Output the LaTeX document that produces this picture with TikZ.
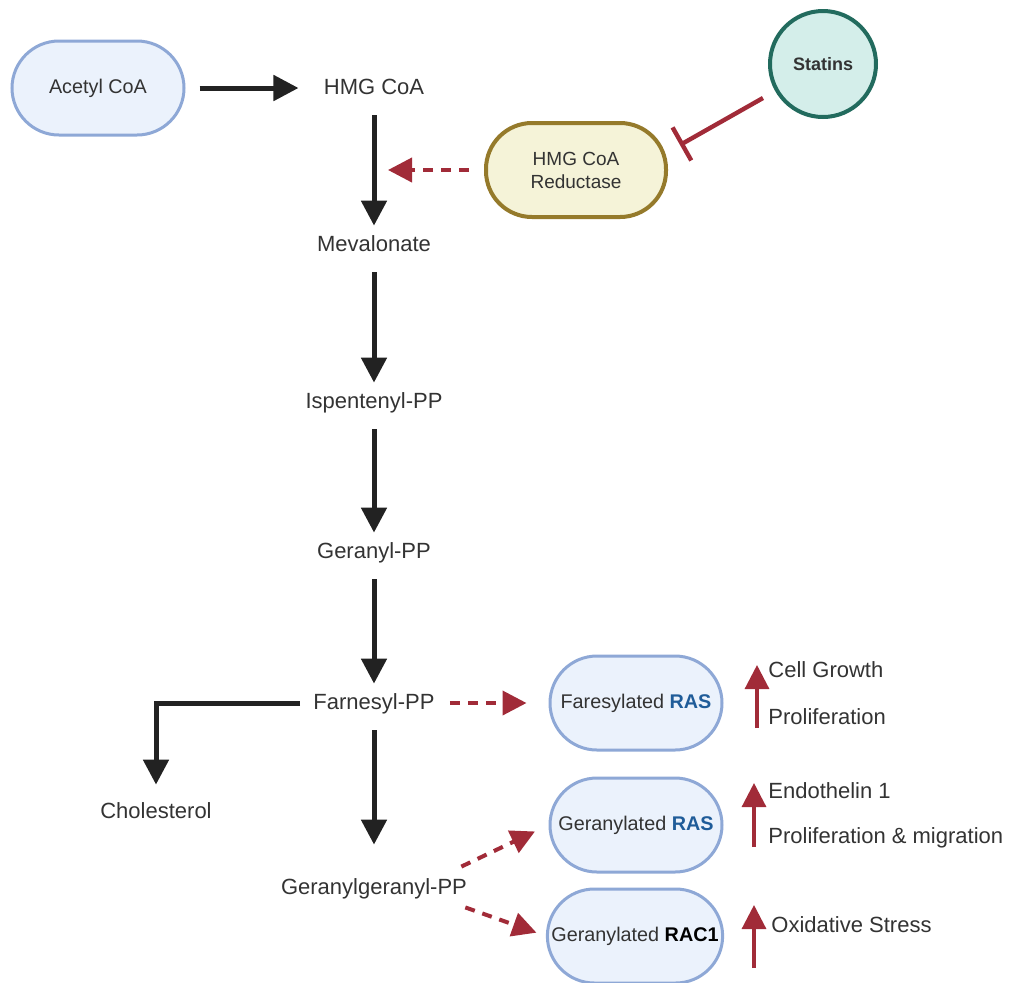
\documentclass[tikz,border=0pt]{standalone}
\usepackage{fontspec}
\setmainfont{Liberation Sans}
\usetikzlibrary{arrows.meta}
\definecolor{boxblue}{HTML}{EBF2FC}
\definecolor{edgeblue}{HTML}{8EA8D6}
\definecolor{rasblue}{HTML}{1F5C99}
\definecolor{enzfill}{HTML}{F5F3D8}
\definecolor{enzedge}{HTML}{957A2B}
\definecolor{statfill}{HTML}{D4EEEA}
\definecolor{statedge}{HTML}{226B5E}
\definecolor{inhred}{HTML}{A12B38}
\definecolor{ink}{HTML}{333333}
\definecolor{darkarrow}{HTML}{222222}
\begin{document}
\begin{tikzpicture}[
        x = 0.5pt, y = -0.5pt,
        every node/.style = {text = ink, font = \fontsize{11}{13}\selectfont},
        metab/.style = {text height = 8.5pt, text depth = 2.5pt, inner sep = 3pt},
        pill/.style = {draw = edgeblue, fill = boxblue, line width = 1.5pt,
            rounded corners = 23.5pt, minimum width = 86pt, minimum height = 47pt,
            inner sep = 2pt, font = \fontsize{9.9}{11}\selectfont},
        enzyme/.style = {draw = enzedge, fill = enzfill, line width = 2pt,
            rounded corners = 23pt, minimum width = 90pt, minimum height = 47pt,
            align = center, font = \fontsize{9.5}{11.5}\selectfont},
        drug/.style = {circle, draw = statedge, fill = statfill, line width = 2pt,
            minimum size = 53pt, font = \fontsize{9}{11}\selectfont\bfseries},
        note/.style = {anchor = west, inner sep = 0pt},
        flow/.style = {draw = darkarrow, line width = 2.5pt,
            -{Triangle[length = 12.5pt, width = 12.5pt]}},
        hint/.style = {draw = inhred, line width = 2pt, dash pattern = on 5pt off 4pt,
            -{Triangle[length = 12pt, width = 12pt]}},
        inhibit/.style = {draw = inhred, line width = 2.2pt, -{Bar[width = 19pt]}},
        rise/.style = {draw = inhred, line width = 1.6pt,
            -{Triangle[length = 12pt, width = 12pt]}}
    ]
    \useasboundingbox (0, 0) rectangle (1018, 982);
    \path
        (98, 88) node[pill] (acetyl) {Acetyl CoA}
        (374, 88) node[metab] (hmg) {HMG CoA}
        (374, 245) node[metab] (meva) {Mevalonate}
        (374, 402) node[metab] (ispent) {Ispentenyl-PP}
        (374, 552) node[metab] (geranyl) {Geranyl-PP}
        (374, 703) node[metab] (farnesyl) {Farnesyl-PP}
        (374, 888) node[metab] (ggpp) {Geranylgeranyl-PP}
        (156, 812) node[metab] (chol) {Cholesterol}
        (576, 170) node[enzyme] (reductase) {HMG CoA\\Reductase}
        (823, 64) node[drug] (statins) {Statins}
        (636, 703) node[pill] (fras) {Faresylated \textcolor{rasblue}{\textbf{RAS}}}
        (636, 825) node[pill] (gras) {Geranylated \textcolor{rasblue}{\textbf{RAS}}}
        (635, 936) node[pill] (grac) {Geranylated \textcolor{black}{\textbf{RAC1}}}
        (768, 670) node[note] (growth) {Cell Growth}
        (768, 717) node[note] (prolif) {Proliferation}
        (768, 791) node[note] (endo) {Endothelin 1}
        (768, 838) node[note] (migr) {Proliferation \& migration}
        (771, 925) node[note] (oxid) {Oxidative Stress}
    ;
    \coordinate (block) at (680, 145);
    \coordinate (up1) at (757, 728);
    \coordinate (up1t) at (757, 665);
    \coordinate (up2) at (754, 847);
    \coordinate (up2t) at (754, 783);
    \coordinate (up3) at (754, 968);
    \coordinate (up3t) at (754, 905);
    \draw[flow, shorten < = 7pt, shorten > = 9.5pt] (acetyl) -- (hmg);
    \foreach \a/\b in {hmg/meva, meva/ispent, ispent/geranyl, geranyl/farnesyl}
        \draw[flow, shorten < = 5pt, shorten > = 1pt] (\a) -- (\b);
    \draw[flow, shorten < = 5pt, shorten > = 13pt] (farnesyl) -- (ggpp);
    \draw[flow, shorten < = 3.5pt, shorten > = 5pt] (farnesyl.west) -| (chol.north);
    \draw[hint, shorten < = 7.5pt, shorten > = 7pt] (reductase.west) -- (reductase.west -| hmg);
    \draw[inhibit, shorten < = 7pt] (statins) -- (block);
    \draw[hint, shorten < = 4.5pt, shorten > = 11pt] (farnesyl) -- (fras);
    \draw[hint, shorten > = 7.5pt] ([xshift = -6pt, yshift = 2pt]ggpp.north east) -- (gras.west);
    \draw[hint, shorten > = 5pt] ([xshift = -4pt, yshift = -1pt]ggpp.south east) -- (grac.west);
    \foreach \n in {1, 2, 3}
        \draw[rise] (up\n) -- (up\n t);
\end{tikzpicture}
\end{document}
